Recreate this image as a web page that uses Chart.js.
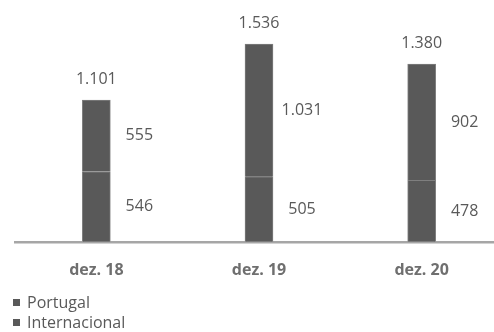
<!DOCTYPE html>
<html>
<head>
<meta charset="utf-8">
<script src="https://cdn.jsdelivr.net/npm/chart.js@4"></script>
<style>
  html, body { margin: 0; padding: 0; background: #fff; overflow: hidden; }
  #wrap { width: 504px; height: 332px; }
</style>
</head>
<body>
<div id="wrap"><canvas id="chart" width="504" height="332"></canvas></div>
<script>
const categories = ['dez. 18', 'dez. 19', 'dez. 20'];
const portugal = [546, 505, 478];
const internacional = [555, 1031, 902];
const seriesNames = ['Portugal', 'Internacional'];

const barColor = '#595959';
const textColor = '#595959';
const fontFamily = '"Open Sans", "DejaVu Sans", sans-serif';

function fmt(n) {
    return String(n).replace(/\B(?=(\d{3})+(?!\d))/g, '.');
}

const labelPlugin = {
    id: 'labels',
    afterDatasetsDraw(chart) {
        const ctx = chart.ctx;
        ctx.save();
        ctx.font = '16px ' + fontFamily;
        ctx.fillStyle = textColor;
        ctx.textAlign = 'center';
        ctx.textBaseline = 'middle';
        chart.data.datasets.forEach((ds, i) => {
            chart.getDatasetMeta(i).data.forEach((bar, j) => {
                ctx.fillText(fmt(ds.data[j]), bar.x + 43, (bar.y + bar.base) / 2);
            });
        });
        const topMeta = chart.getDatasetMeta(chart.data.datasets.length - 1);
        topMeta.data.forEach((bar, j) => {
            const total = portugal[j] + internacional[j];
            ctx.fillText(fmt(total), bar.x, bar.y - 21);
        });

        // legend, two rows bottom-left
        ctx.textAlign = 'left';
        seriesNames.forEach((name, i) => {
            const y = 303 + i * 20;
            ctx.fillStyle = barColor;
            ctx.fillRect(13, y - 4, 7, 7);
            ctx.fillStyle = textColor;
            ctx.fillText(name, 27, y);
        });
        ctx.restore();
    }
};

new Chart(document.getElementById('chart').getContext('2d'), {
    type: 'bar',
    data: {
        labels: categories,
        datasets: [{
            label: seriesNames[0],
            data: portugal,
            backgroundColor: barColor,
            borderColor: '#7f7f7f',
            borderWidth: 1,
            barThickness: 28
        }, {
            label: seriesNames[1],
            data: internacional,
            backgroundColor: barColor,
            borderColor: '#7f7f7f',
            borderWidth: 1,
            barThickness: 28
        }]
    },
    options: {
        responsive: false,
        animation: false,
        layout: {
            padding: { left: 15, right: 1, top: 10, bottom: 33 }
        },
        plugins: {
            legend: { display: false },
            tooltip: { enabled: false }
        },
        scales: {
            x: {
                stacked: true,
                grid: { display: false, drawTicks: false },
                border: { color: '#a6a6a6', width: 2.5 },
                ticks: {
                    color: '#6f6f6f',
                    font: { family: fontFamily, size: 16, weight: 'bold' },
                    padding: 19
                }
            },
            y: {
                stacked: true,
                display: false,
                min: 0,
                max: 1800
            }
        }
    },
    plugins: [labelPlugin]
});
</script>
</body>
</html>
